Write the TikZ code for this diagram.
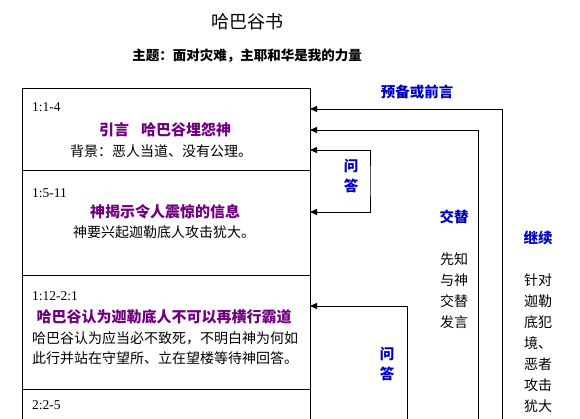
\documentclass[tikz,border=0pt]{standalone}
\usepackage{fontspec}
\setmainfont{Liberation Serif}
\newfontfamily\cjk{Noto Sans CJK SC}
\usetikzlibrary{arrows.meta}
\definecolor{ttlpurple}{RGB}{112,0,128}
\definecolor{lblblue}{RGB}{0,0,190}
\begin{document}
\begin{tikzpicture}[x=1pt,y=-1pt,
  sec/.style={draw,line width=0.9pt,minimum width=288pt,inner sep=0pt},
  txt/.style={inner sep=0pt,font=\cjk\fontsize{14}{19.5}\selectfont},
  head/.style={inner sep=0pt,text=ttlpurple,font=\cjk\bfseries\fontsize{15}{18}\selectfont},
  ref/.style={inner sep=0pt,anchor=west,font=\fontsize{13.5}{16}\selectfont},
  lbl/.style={inner sep=0pt,text=lblblue,font=\cjk\bfseries\fontsize{14.5}{20}\selectfont},
  col/.style={inner sep=0pt,align=center,font=\cjk\fontsize{14}{21}\selectfont},
  arr/.style={line width=0.9pt,-{Triangle[length=7pt,width=6pt]}},
  both/.style={line width=0.9pt,{Triangle[length=7pt,width=6pt]}-{Triangle[length=7pt,width=6pt]}}]
\useasboundingbox (0,0) rectangle (580,419);
\clip (0,0) rectangle (580,419);
% titles
\node[inner sep=0pt,font=\cjk\fontsize{18}{20}\selectfont] (title) at (247,22) {哈巴谷书};
\node[inner sep=0pt,font=\cjk\bfseries\fontsize{13.5}{16}\selectfont] (sub) at (247,56) {主题：面对灾难，主耶和华是我的力量};
% sections
\node[sec,minimum height=82pt] (s1) at (166,129) {};
\node[sec,minimum height=105pt] (s2) at (166,222.5) {};
\node[sec,minimum height=114pt] (s3) at (166,332) {};
\node[sec,minimum height=61pt] (s4) at (166,419.5) {};
% section texts
\node[ref] (r1) at (32,107) {1:1-4};
\node[head] (h1) at (165,130) {引言\hspace{0.8em}哈巴谷埋怨神};
\node[txt] (t1) at (161,151) {背景：恶人当道、没有公理。};
\node[ref] (r2) at (32,193) {1:5-11};
\node[head] (h2) at (165,212) {神揭示令人震惊的信息};
\node[txt] (t2) at (164,232) {神要兴起迦勒底人攻击犹大。};
\node[ref] (r3) at (32,296) {1:12-2:1};
\node[head] (h3) at (164,317) {哈巴谷认为迦勒底人不可以再横行霸道};
\node[txt,align=left] (t3) at (165,348) {哈巴谷认为应当必不致死，不明白神为何如\\此行并站在守望所、立在望楼等待神回答。};
\node[ref] (r4) at (32,405) {2:2-5};
% arrow end points on box edge
\coordinate (e1) at (310,109);
\coordinate (e2) at (310,130);
\coordinate (e3) at (310,150);
\coordinate (e4) at (310,212);
\coordinate (e5) at (310,306);
\coordinate (b1) at (502,420);
\coordinate (b2) at (478,420);
\coordinate (q1) at (370,181);
\coordinate (b3) at (407,420);
% connectors
\draw[arr] (b1) |- (e1);
\draw[arr] (b2) |- (e2);
\draw[both] (e3) -| (q1) |- (e4);
\draw[arr] (b3) |- (e5);
% labels
\node[lbl] (l1) at (417,92) {预备或前言};
\node[lbl,align=center] (l2) at (351,176) {问\\答};
\node[lbl] (l3) at (454,217) {交替};
\node[lbl] (l4) at (538,238) {继续};
\node[lbl,align=center] (l5) at (387,364) {问\\答};
\node[col] (c1) at (454,291) {先知\\与神\\交替\\发言};
\node[col] (c2) at (538,343) {针对\\迦勒\\底犯\\境、\\恶者\\攻击\\犹大};
\end{tikzpicture}
\end{document}
